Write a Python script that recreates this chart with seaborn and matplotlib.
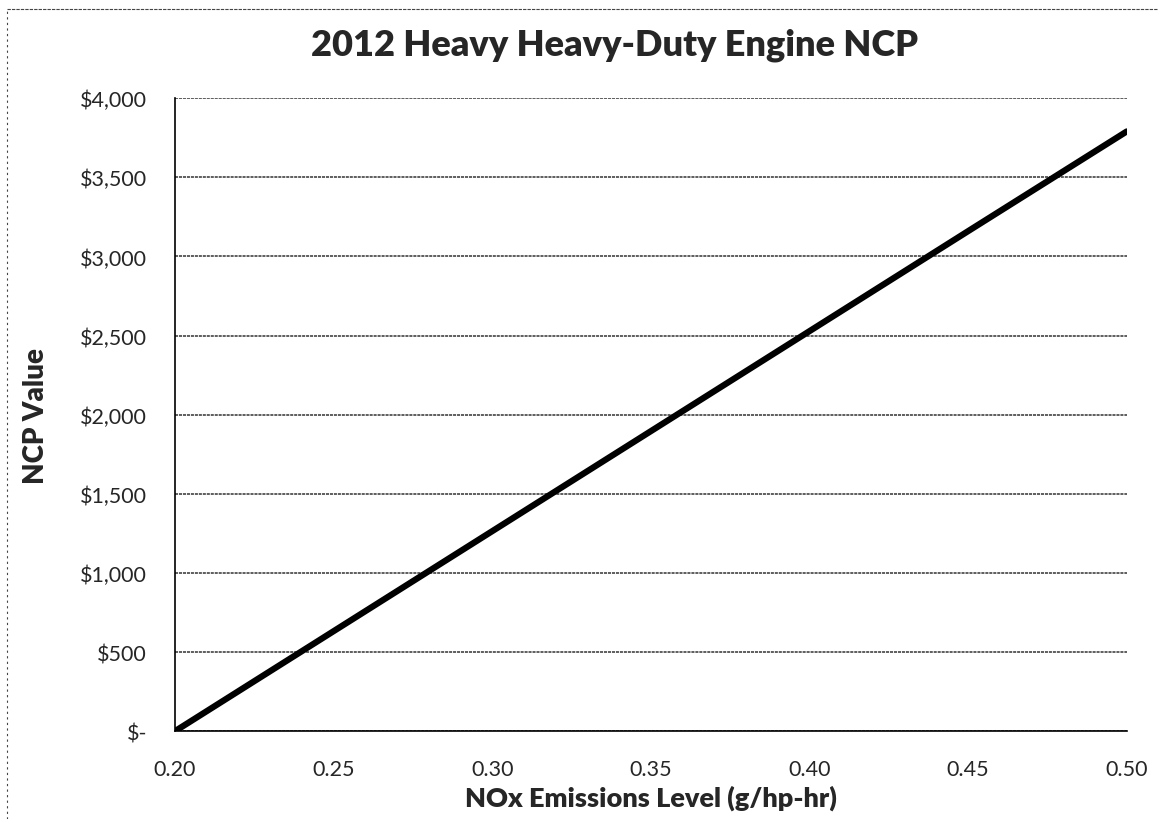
import pandas as pd
import seaborn as sns
import matplotlib.pyplot as plt
from matplotlib.ticker import FuncFormatter
from matplotlib.lines import Line2D

# NCP value by NOx emission level
nox_level = [0.20, 0.25, 0.30, 0.35, 0.40, 0.45, 0.50]
ncp_value = [0, 632, 1264, 1896, 2528, 3160, 3790]
y_ticks = [0, 500, 1000, 1500, 2000, 2500, 3000, 3500, 4000]
x_ticks = [0.20, 0.25, 0.30, 0.35, 0.40, 0.45, 0.50]

df = pd.DataFrame({'nox': nox_level, 'ncp': ncp_value})

sns.set_style('white')
plt.rcParams['font.family'] = ['Lato', 'DejaVu Sans']

fig = plt.figure(figsize=(11.58, 8.2), dpi=100)
ax = fig.add_axes([0.151, 0.107, 0.822, 0.772])

sns.lineplot(data=df, x='nox', y='ncp', color='black', linewidth=4.5, ax=ax)

ax.set_xlim(0.20, 0.50)
ax.set_ylim(0, 4000)
ax.set_xticks(x_ticks)
ax.set_yticks(y_ticks)
ax.xaxis.set_major_formatter(FuncFormatter(lambda v, p: f'{v:.2f}'))
ax.yaxis.set_major_formatter(FuncFormatter(lambda v, p: '$-' if v == 0 else f'${v:,.0f}'))
ax.tick_params(axis='both', labelsize=15.5, length=6, width=1, color='black',
               direction='out')
ax.tick_params(axis='x', pad=14)
ax.tick_params(axis='y', pad=14)

ax.grid(axis='y', color='#333333', linewidth=1.1, linestyle=(0, (2, 0.6)))
ax.grid(axis='x', visible=False)
for side in ['top', 'right']:
    ax.spines[side].set_visible(False)
for side in ['left', 'bottom']:
    ax.spines[side].set_color('black')
    ax.spines[side].set_linewidth(1.2)

ax.set_xlabel('NOx Emissions Level (g/hp-hr)', fontsize=19.5, fontweight='heavy', labelpad=4)
ax.set_ylabel('NCP Value', fontsize=20, fontweight='heavy', labelpad=22)
fig.text(0.531, 0.945, '2012 Heavy Heavy-Duty Engine NCP', fontsize=26,
         fontweight='heavy', ha='center', va='center')

# dashed outer frame of the scanned chart area
fig.add_artist(Line2D([0.006, 0.006], [0.0, 0.988], transform=fig.transFigure,
                      color='#444444', linewidth=0.8, linestyle=(0, (2, 3))))
fig.add_artist(Line2D([0.006, 1.0], [0.988, 0.988], transform=fig.transFigure,
                      color='#444444', linewidth=0.8, linestyle=(0, (3, 1))))

fig.savefig('out.png', dpi=100)
